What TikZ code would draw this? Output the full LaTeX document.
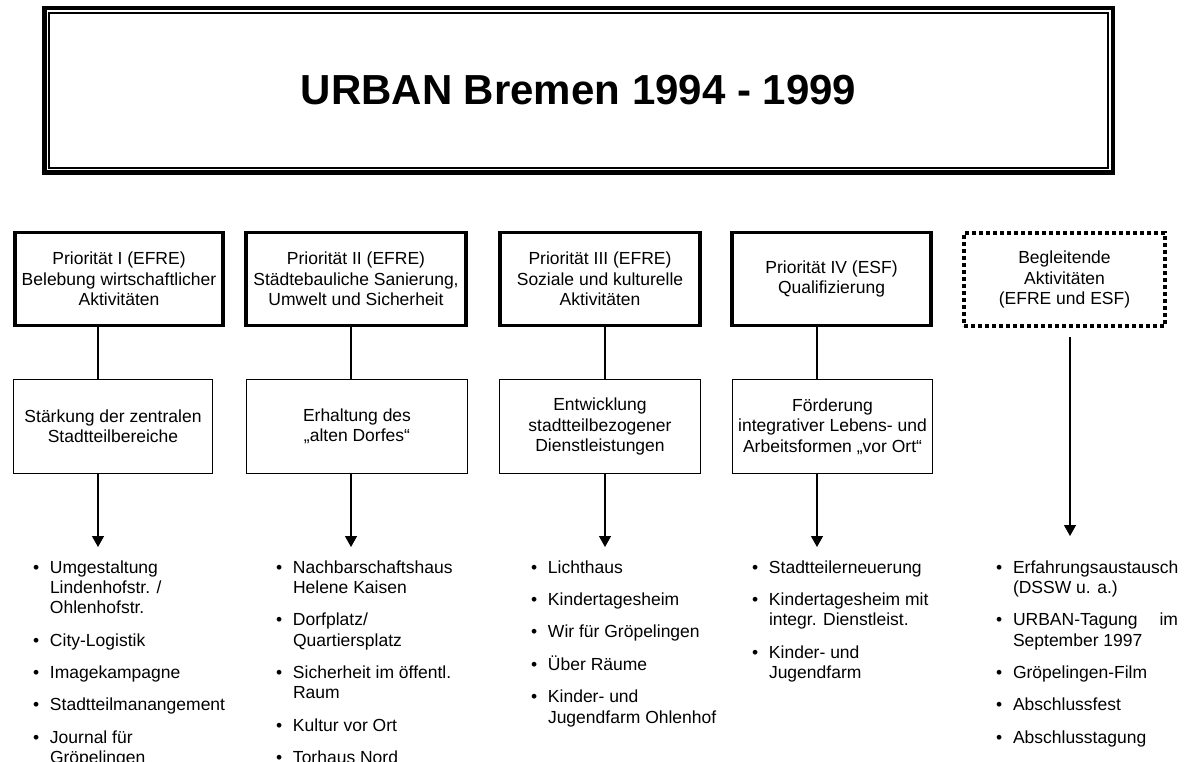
\documentclass[tikz,border=0pt]{standalone}
\usepackage{fontspec}
\setmainfont{Liberation Sans}
\usetikzlibrary{arrows.meta}
\newcommand\bodyfont{\fontsize{17.5pt}{20.3pt}\selectfont}
\newcommand\titlefont{\fontsize{42pt}{48pt}\selectfont\bfseries}
\newcommand\bul{\textbullet}
\begin{document}
\begin{tikzpicture}[x=1pt,y=-1pt,
  every node/.style={outer sep=0pt,inner sep=0pt},
  prio/.style={draw,line width=3.5pt,align=center,font=\bodyfont,minimum height=92.5pt},
  sub/.style={draw,line width=1.3pt,align=center,font=\bodyfont,minimum height=94pt},
  beg/.style={draw,line width=4pt,dash pattern=on 4pt off 3pt,align=center,font=\bodyfont,minimum height=93pt},
  conn/.style={line width=1.3pt},
  arr/.style={line width=1.3pt,-{Triangle[width=12pt,length=11pt]}},
  lst/.style={anchor=north west,font=\bodyfont}]
\useasboundingbox (0,0) rectangle (1184,762);
% title
\node[draw,line width=4.5pt,minimum width=1068.5pt,minimum height=164.5pt,font=\titlefont] (title) at (578.5,90.5) {URBAN Bremen 1994 - 1999};
\draw[line width=1.5pt] ([shift={(4.75,4.75)}]title.north west) rectangle ([shift={(-4.75,-4.75)}]title.south east);
% priority boxes
\node[prio,minimum width=208pt] (B1) at (119,279) {Priorität I (EFRE)\\Belebung wirtschaftlicher\\Aktivitäten};
\node[prio,minimum width=220pt] (B2) at (356,279) {Priorität II (EFRE)\\Städtebauliche Sanierung,\\Umwelt und Sicherheit};
\node[prio,minimum width=200pt] (B3) at (600,279) {Priorität III (EFRE)\\Soziale und kulturelle\\Aktivitäten};
\node[prio,minimum width=199pt] (B4) at (831.5,279) {Priorität IV (ESF)\\Qualifizierung};
\node[beg,minimum width=201pt] (D) at (1064.5,279.5) {Begleitende\\Aktivitäten\\(EFRE und ESF)};
% second row
\node[sub,minimum width=199pt] (R1) at (113,426.5) {Stärkung der zentralen\\Stadtteilbereiche};
\node[sub,minimum width=221pt] (R2) at (357,426.5) {Erhaltung des\\„alten Dorfes“};
\node[sub,minimum width=201pt] (R3) at (600,426.5) {Entwicklung\\stadtteilbezogener\\Dienstleistungen};
\node[sub,minimum width=200pt] (R4) at (832.5,426.5) {Förderung\\integrativer Lebens- und\\Arbeitsformen „vor Ort“};
% connector positions
\coordinate (x1) at (98,0);
\coordinate (x2) at (351,0);
\coordinate (x3) at (605,0);
\coordinate (x4) at (817,0);
\coordinate (t1) at (98,547);
\coordinate (t2) at (351,547);
\coordinate (t3) at (605,547);
\coordinate (t4) at (817,547);
\coordinate (dS) at (1070,337);
\coordinate (dT) at (1070,536);
\foreach \i in {1,2,3,4}{
  \draw[conn] (B\i.south -| x\i) -- (R\i.north -| x\i);
  \draw[arr] (R\i.south -| x\i) -- (t\i);
}
\draw[arr] (dS) -- (dT);
% lists
\node[lst] (L1) at (33,559) {\begin{tabular}{@{}p{17pt}@{}l@{}}
\bul & Umgestaltung\\ & Lindenhofstr. /\\ & Ohlenhofstr.\\[12pt]
\bul & City-Logistik\\[12pt]
\bul & Imagekampagne\\[12pt]
\bul & Stadtteilmanangement\\[12pt]
\bul & Journal für\\ & Gröpelingen
\end{tabular}};
\node[lst] (L2) at (276,559) {\begin{tabular}{@{}p{17pt}@{}l@{}}
\bul & Nachbarschaftshaus\\ & Helene Kaisen\\[12pt]
\bul & Dorfplatz/\\ & Quartiersplatz\\[12pt]
\bul & Sicherheit im öffentl.\\ & Raum\\[12pt]
\bul & Kultur vor Ort\\[12pt]
\bul & Torhaus Nord
\end{tabular}};
\node[lst] (L3) at (531,559) {\begin{tabular}{@{}p{17pt}@{}l@{}}
\bul & Lichthaus\\[12pt]
\bul & Kindertagesheim\\[12pt]
\bul & Wir für Gröpelingen\\[12pt]
\bul & Über Räume\\[12pt]
\bul & Kinder- und\\ & Jugendfarm Ohlenhof
\end{tabular}};
\node[lst] (L4) at (752,559) {\begin{tabular}{@{}p{17pt}@{}l@{}}
\bul & Stadtteilerneuerung\\[12pt]
\bul & Kindertagesheim mit\\ & integr. Dienstleist.\\[12pt]
\bul & Kinder- und\\ & Jugendfarm
\end{tabular}};
\node[lst] (L5) at (996,559) {\begin{tabular}{@{}p{17pt}@{}l@{}}
\bul & Erfahrungsaustausch\\ & (DSSW u. a.)\\[12pt]
\bul & \hbox to 165pt{URBAN-Tagung\hfill im}\\ & September 1997\\[12pt]
\bul & Gröpelingen-Film\\[12pt]
\bul & Abschlussfest\\[12pt]
\bul & Abschlusstagung
\end{tabular}};
\end{tikzpicture}
\end{document}
